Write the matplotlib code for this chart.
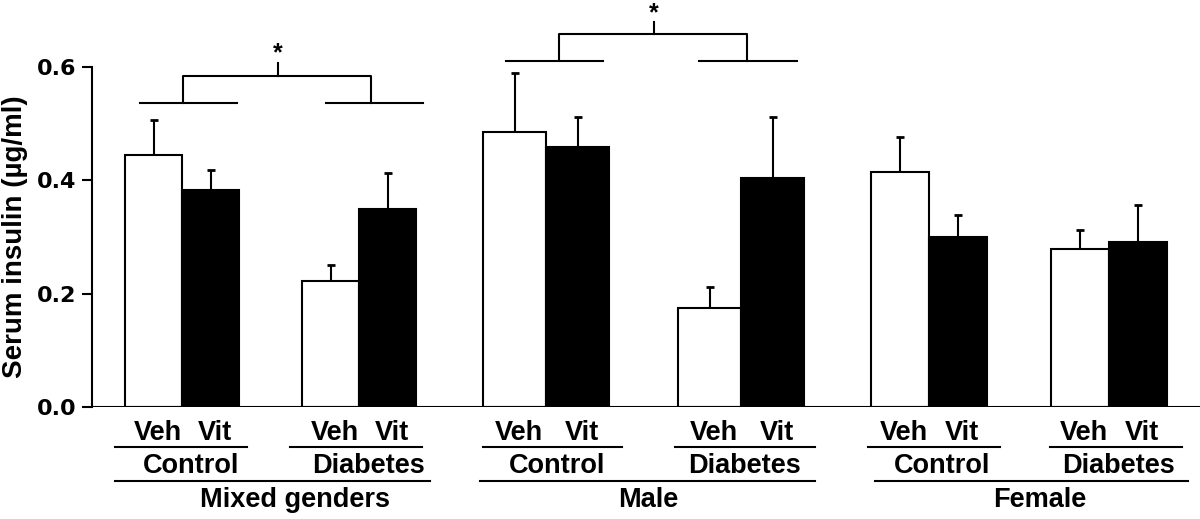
import numpy as np
import matplotlib
matplotlib.use("Agg")
import matplotlib.pyplot as plt

plt.rcParams['font.family'] = ['Liberation Sans', 'DejaVu Sans']
plt.rcParams['font.weight'] = 'bold'

# values (serum insulin, ug/ml)
genders = ['Mixed genders', 'Male', 'Female']
conditions = ['Control', 'Diabetes']
treatments = ['Veh', 'Vit']
veh_mean = [0.445, 0.223, 0.486, 0.174, 0.415, 0.278]
veh_err = [0.061, 0.027, 0.104, 0.037, 0.061, 0.035]
vit_mean = [0.383, 0.349, 0.459, 0.405, 0.300, 0.291]
vit_err = [0.035, 0.064, 0.052, 0.106, 0.038, 0.065]
yticks = [0.0, 0.2, 0.4, 0.6]

# layout (x in pixel units of the 1200 px wide canvas)
pair_left = [125, 302, 483, 678, 871, 1051]
bar_w = [57, 57, 63, 63, 58, 58]

fig = plt.figure(figsize=(12, 5.19), dpi=100)
ax = fig.add_axes([92 / 1200, 1 - 407 / 519, 1 - 92 / 1200, 340 / 519])
ax.set_xlim(92, 1200)
ax.set_ylim(0, 0.6)

veh_x = []
vit_x = []
for i in range(6):
    w = bar_w[i]
    x0 = pair_left[i] + w / 2
    x1 = pair_left[i] + w * 1.5
    veh_x.append(x0)
    vit_x.append(x1)
    ax.bar(x0, veh_mean[i], width=w, color='white', edgecolor='black', linewidth=1.5, zorder=2)
    ax.bar(x1, vit_mean[i], width=w, color='black', edgecolor='black', linewidth=1.5, zorder=2)
    # upper error bars only
    for x, m, e in [(x0, veh_mean[i], veh_err[i]), (x1, vit_mean[i], vit_err[i])]:
        ax.vlines(x, m, m + e, color='black', lw=1.5, zorder=3)
        ax.hlines(m + e, x - 4, x + 4, color='black', lw=2, zorder=3)

for s in ['top', 'right', 'bottom']:
    ax.spines[s].set_visible(False)
ax.spines['left'].set_linewidth(1.5)
ax.spines['left'].set_bounds(0, 0.6)
ax.axhline(0, xmin=0, xmax=1, color='black', lw=1.5, zorder=4)

ax.set_xticks([])
ax.set_yticks(yticks)
ax.set_yticklabels(['%.1f' % t for t in yticks], fontsize=16, fontweight='bold',
                   family='DejaVu Sans')
ax.tick_params(axis='y', length=7, width=1.5, pad=4)
ax.set_ylabel('Serum insulin (µg/ml)', fontsize=20, fontweight='bold')
ax.yaxis.set_label_coords((28 - 92) / 1108, 0.5)

# significance brackets
def bracket(l1, l2, y_low, y_top, y_tick, y_star, xa, xb, xm):
    kw = dict(color='black', lw=1.5, clip_on=False)
    ax.plot(l1, [y_low, y_low], **kw)
    ax.plot(l2, [y_low, y_low], **kw)
    ax.plot([xa, xa, xb, xb], [y_low, y_top, y_top, y_low], **kw)
    ax.plot([xm, xm], [y_top, y_tick], **kw)
    ax.text(xm, y_star, '*', ha='center', va='center', fontsize=18, fontweight='bold')

bracket([140, 237], [326, 423], 0.536, 0.585, 0.607, 0.625, 183, 371, 278)
bracket([506, 603], [699, 797], 0.611, 0.658, 0.679, 0.695, 559, 747, 654)

# group labels below the axis (figure pixel coordinates)
def fy(py):
    return 1 - py / 519

def fx(px):
    return px / 1200

sub_lines = [(115, 247), (290, 422), (483, 622), (675, 815), (868, 1000), (1050, 1182)]
big_lines = [(115, 430), (480, 815), (875, 1188)]
cond_x = [191, 369, 557, 745, 942, 1119]
group_x = [295, 648, 1040]
fs = 19.5

for i in range(6):
    a, b = sub_lines[i]
    fig.text(fx(veh_x[i] + 4), fy(440), treatments[0], ha='center', va='baseline', fontsize=fs, fontweight='bold')
    fig.text(fx(vit_x[i] + 4), fy(440), treatments[1], ha='center', va='baseline', fontsize=fs, fontweight='bold')
    fig.add_artist(plt.Line2D([fx(a), fx(b)], [fy(447), fy(447)], color='black', lw=1.5))
    fig.text(fx(cond_x[i]), fy(473), conditions[i % 2], ha='center', va='baseline', fontsize=fs, fontweight='bold')

for j in range(3):
    a, b = big_lines[j]
    fig.add_artist(plt.Line2D([fx(a), fx(b)], [fy(481), fy(481)], color='black', lw=1.5))
    fig.text(fx(group_x[j]), fy(507), genders[j], ha='center', va='baseline', fontsize=fs, fontweight='bold')

fig.savefig('out.png', dpi=100)
